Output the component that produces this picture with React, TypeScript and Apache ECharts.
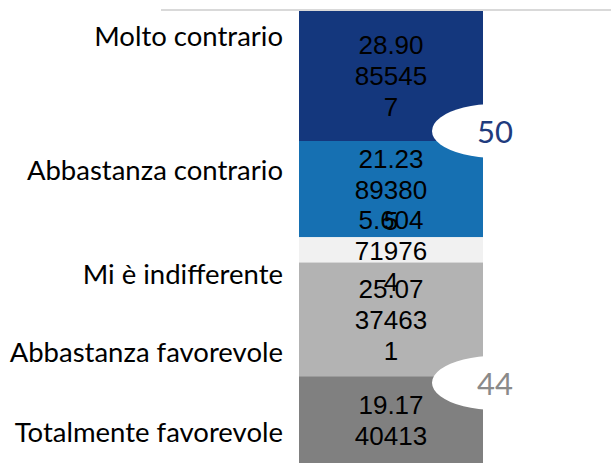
import React, { useEffect, useRef } from "react";
import * as echarts from "echarts";

const categories = ["Molto contrario", "Abbastanza contrario", "Mi è indifferente", "Abbastanza favorevole", "Totalmente favorevole"];
const values = [28.90855457, 21.23893805, 5.604719764, 25.07374631, 19.1740413];
const colors = ["#14377D", "#1670B2", "#F1F1F1", "#B3B3B3", "#808080"];
const bubbleValues = [50, 44];
const bubbleAt = [26.7, 82.3];
const bubbleColors = ["#1F3C7E", "#8A8A8A"];
const labelY = [38, 172, 276, 354, 434];

function chunk(v: number): string {
  const s = String(v);
  const out: string[] = [];
  for (let i = 0; i < s.length; i += 5) out.push(s.slice(i, i + 5));
  return out.join("\n");
}

export default function App() {
  const ref = useRef<HTMLDivElement>(null);
  useEffect(() => {
    if (!ref.current) return;
    const chart = echarts.init(ref.current, null, { renderer: "svg" });
    const barSeries = values.map((v, i) => ({
      type: "bar",
      name: categories[i],
      stack: "total",
      barWidth: 184,
      data: [v],
      itemStyle: { color: colors[i] },
      label: {
        show: true,
        position: "inside",
        offset: [0, 1],
        formatter: (p: any) => chunk(p.value),
        color: "#000",
        fontFamily: "Liberation Sans, Arial, sans-serif",
        fontSize: 26,
        lineHeight: 31,
      },
    }));
    const bubbleSeries = bubbleValues.map((b, i) => ({
      type: "scatter",
      data: [[0, bubbleAt[i], b]],
      symbol: "circle",
      symbolSize: [126, 54],
      symbolOffset: [104, 0],
      itemStyle: { color: "#FFFFFF", opacity: 1 },
      z: 5,
      clip: false,
      label: {
        show: true,
        position: "inside",
        formatter: () => String(b),
        color: bubbleColors[i],
        fontFamily: "Lato, sans-serif",
        fontSize: 31,
      },
    }));
    chart.setOption({
      animation: false,
      grid: { left: 171, right: 0, top: 10, bottom: 1, containLabel: false },
      xAxis: {
        type: "category",
        position: "top",
        data: [""],
        axisLine: { show: false },
        axisTick: { show: false },
        axisLabel: { show: false },
      },
      yAxis: {
        type: "value",
        inverse: true,
        min: 0,
        max: 100,
        show: false,
        splitLine: { show: false },
      },
      graphic: [
        {
          type: "line",
          z: 10,
          shape: { x1: 161, y1: 10, x2: 611, y2: 10 },
          style: { stroke: "#D9D9D9", lineWidth: 2 },
        },
        ...categories.map((c, i) => ({
          type: "text",
          right: 611 - 283,
          top: labelY[i] - 17,
          style: {
            text: c,
            fill: "#000",
            font: "27.5px Lato, sans-serif",
            textAlign: "right",
          },
        })),
      ],
      series: [...barSeries, ...bubbleSeries],
    });
    return () => chart.dispose();
  }, []);
  return <div ref={ref} style={{ width: 611, height: 464, position: "absolute", left: 0, top: 0 }} />;
}
